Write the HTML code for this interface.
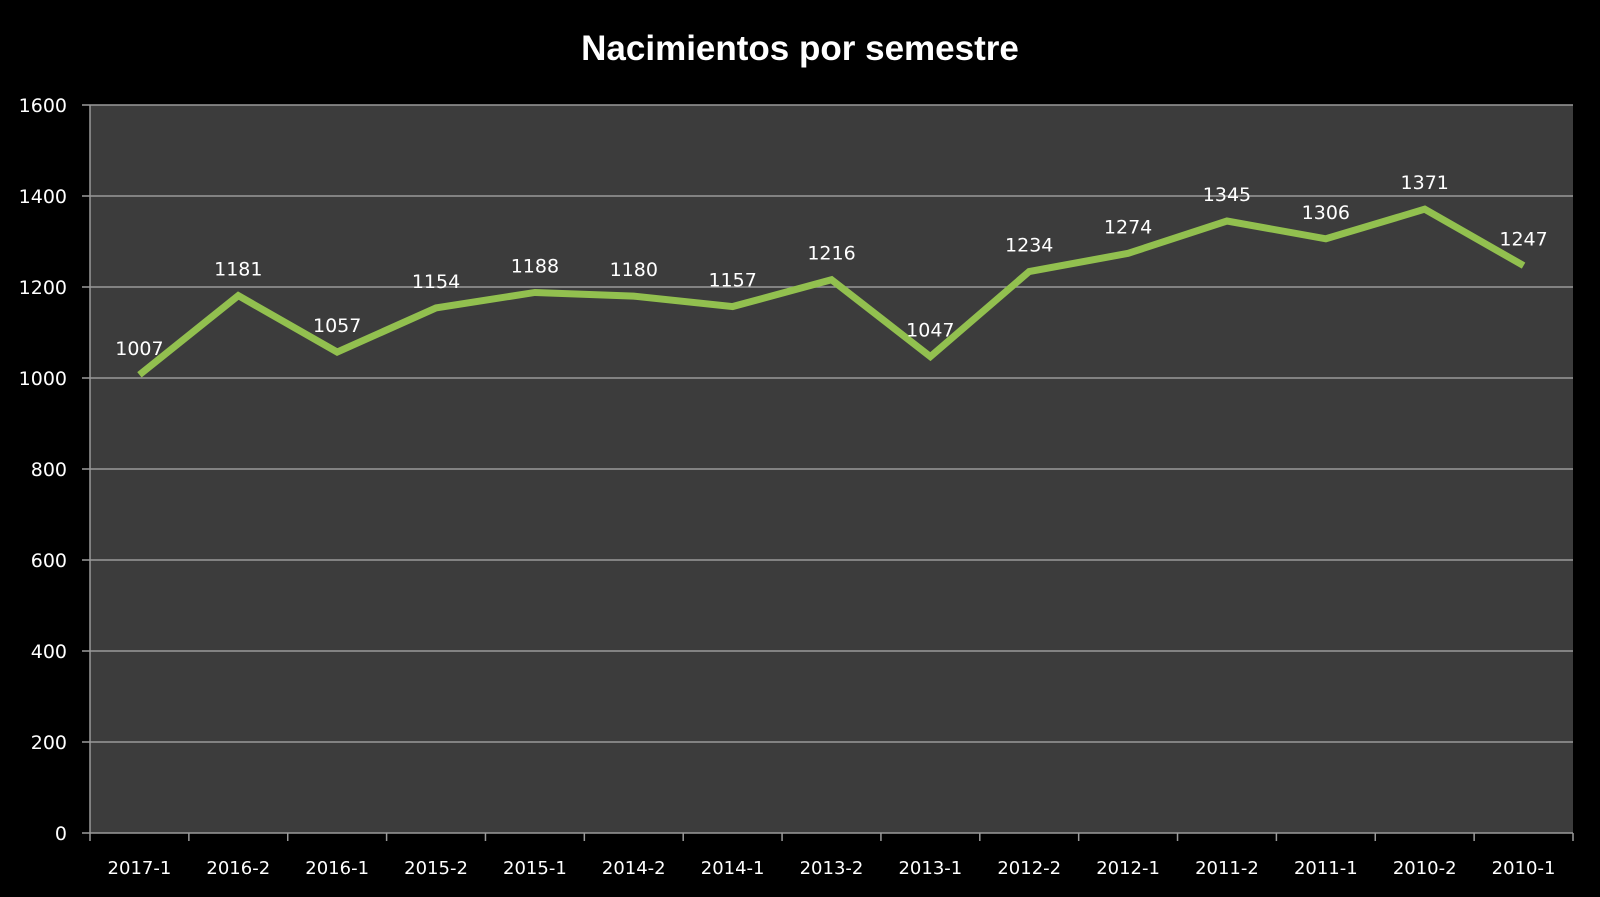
<!DOCTYPE html>
<html><head><meta charset="utf-8"><style>
html,body{margin:0;padding:0;background:#000;}
svg{display:block;font-family:"DejaVu Sans","Liberation Sans",sans-serif;}
</style></head><body>
<svg id="chart" width="1600" height="897" viewBox="0 0 1600 897">
<rect width="1600" height="897" fill="#000"/>
<text x="800" y="60" text-anchor="middle" fill="#fff" font-size="35" font-weight="bold" font-family="'Liberation Sans',sans-serif">Nacimientos por semestre</text>
<g id="plot"></g>
</svg>
<script>
const categories=["2017-1","2016-2","2016-1","2015-2","2015-1","2014-2","2014-1","2013-2","2013-1","2012-2","2012-1","2011-2","2011-1","2010-2","2010-1"];
const values=[1007,1181,1057,1154,1188,1180,1157,1216,1047,1234,1274,1345,1306,1371,1247];
const yTicks=[0,200,400,600,800,1000,1200,1400,1600];
const L=90,R=1573,T=105,B=833,yMax=1600;
const NS="http://www.w3.org/2000/svg";
const g=document.getElementById('plot');
const bw=(R-L)/categories.length;
const x=i=>L+bw*(i+0.5);
const y=v=>B-(v/yMax)*(B-T);
function mk(t,a){const e=document.createElementNS(NS,t);for(const k in a)e.setAttribute(k,a[k]);g.appendChild(e);return e;}
const bg=mk('rect',{x:L,y:T,width:R-L,height:B-T,fill:'#3c3c3c'});


yTicks.forEach(v=>{
 const ln=mk('line',{x1:L-8,x2:R,y1:y(v),y2:y(v),stroke:'#9a9a9a','stroke-width':1.5});
 
 
 const t=mk('text',{x:67,y:y(v)+7,'text-anchor':'end',fill:'#fff','font-size':19});
 t.textContent=v;
 
 
});
const ax=mk('line',{x1:L,x2:L,y1:T,y2:B,stroke:'#9a9a9a','stroke-width':1.5});


for(let i=0;i<=categories.length;i++){
 const tk=mk('line',{x1:L+bw*i,x2:L+bw*i,y1:B,y2:B+8,stroke:'#9a9a9a','stroke-width':1.5});
 
 
}
categories.forEach((c,i)=>{
 const t=mk('text',{x:x(i),y:874,'text-anchor':'middle',fill:'#fff','font-size':18});
 t.textContent=c;
 
 
});
const line=mk('polyline',{points:values.map((v,i)=>x(i)+','+y(v)).join(' '),fill:'none',stroke:'#92c04f','stroke-width':7,'stroke-linejoin':'miter'});


values.forEach((v,i)=>{
 const t=mk('text',{x:x(i),y:y(v)-20,'text-anchor':'middle',fill:'#fff','font-size':19});
 t.textContent=v;
 
 
});
</script>
</body></html>
